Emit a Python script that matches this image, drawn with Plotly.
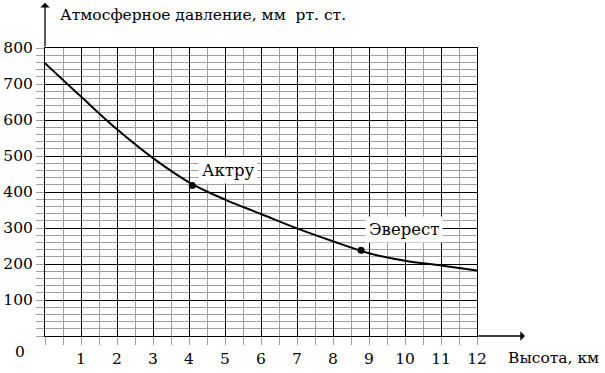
import plotly.graph_objects as go

# Data
heights_km = [0, 1, 2, 3, 4, 5, 6, 7, 8, 9, 10, 11, 12]
pressure_mm = [758, 665, 574, 494, 427, 379, 339, 299, 263, 230, 209, 196, 182]

places = ["Актру", "Эверест"]
place_km = [4.09, 8.78]
place_mm = [418, 238]

x_tickvals = list(range(0, 13))
x_ticktext = [""] + [str(v) for v in range(1, 13)]
y_tickvals = list(range(0, 801, 100))
y_ticktext = [""] + [str(v) for v in range(100, 801, 100)]

FONT = "DejaVu Serif"
GRAY = "#a0a0a0"

def px(x):
    return (x - 45) / 432.0

def py(y):
    return (336.3 - y) / 288.0

fig = go.Figure()
fig.add_trace(go.Scatter(x=heights_km, y=pressure_mm, mode="lines",
                         line=dict(color="black", width=2, shape="spline", smoothing=1.0),
                         hoverinfo="skip", showlegend=False))
fig.add_trace(go.Scatter(x=place_km, y=place_mm, mode="markers",
                         marker=dict(color="black", size=7),
                         hoverinfo="skip", showlegend=False))

label_pos = [(228, 171), (404, 230)]
for name, (lx, ly) in zip(places, label_pos):
    fig.add_annotation(x=px(lx), y=py(ly), xref="paper", yref="paper", text=name,
                       showarrow=False, bgcolor="white", xanchor="center", yanchor="middle",
                       font=dict(family=FONT, size=16.5, color="black"), borderpad=3)

fig.add_annotation(x=px(45), y=py(3), ax=0, ay=45, xref="paper", yref="paper",
                   axref="pixel", ayref="pixel",
                   text="", showarrow=True, arrowhead=1, arrowsize=1.2, arrowwidth=1.3,
                   arrowcolor="black")
fig.add_annotation(x=px(525), y=py(336.3), ax=-48, ay=0, xref="paper", yref="paper",
                   axref="pixel", ayref="pixel",
                   text="", showarrow=True, arrowhead=1, arrowsize=1.2, arrowwidth=1.3,
                   arrowcolor="black")

fig.add_annotation(x=px(58), y=py(15), xref="paper", yref="paper",
                   text="Атмосферное давление, мм  рт. ст.",
                   showarrow=False, xanchor="left", yanchor="middle",
                   font=dict(family=FONT, size=15.5, color="black"))
fig.add_annotation(x=px(506), y=py(358), xref="paper", yref="paper", text="Высота, км",
                   showarrow=False, xanchor="left", yanchor="middle",
                   font=dict(family=FONT, size=15.5, color="black"))
fig.add_annotation(x=px(20), y=py(352), xref="paper", yref="paper", text="0",
                   showarrow=False, xanchor="center", yanchor="middle",
                   font=dict(family=FONT, size=15.5, color="black"))

fig.update_xaxes(range=[0, 12], tickvals=x_tickvals, ticktext=x_ticktext,
                 showgrid=True, gridcolor="black", gridwidth=1, automargin=False,
                 ticks="outside", ticklen=8, tickcolor=GRAY, tickwidth=1,
                 showline=True, linecolor="black", linewidth=1, mirror=True,
                 zeroline=False,
                 tickfont=dict(family=FONT, size=15.5, color="black"),
                 minor=dict(dtick=0.5, tick0=0, showgrid=True, gridcolor=GRAY, gridwidth=1,
                            ticks="outside", ticklen=8, tickcolor=GRAY))
fig.update_yaxes(range=[0, 800], tickvals=y_tickvals, ticktext=y_ticktext,
                 showgrid=True, gridcolor="black", gridwidth=1, automargin=False,
                 ticks="outside", ticklen=8, tickcolor=GRAY, tickwidth=1,
                 showline=True, linecolor="black", linewidth=1, mirror=True,
                 zeroline=False,
                 tickfont=dict(family=FONT, size=15.5, color="black"),
                 minor=dict(dtick=20, tick0=0, showgrid=True, gridcolor=GRAY, gridwidth=1,
                            ticks="outside", ticklen=8, tickcolor=GRAY))

fig.update_layout(width=605, height=373, autosize=False,
                  margin=dict(l=45, r=128, t=48, b=37, pad=0),
                  plot_bgcolor="white", paper_bgcolor="white",
                  showlegend=False)

fig.write_html("out.html")
